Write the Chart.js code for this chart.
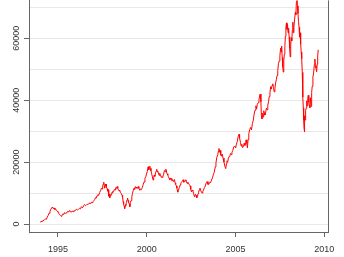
<!DOCTYPE html>
<html><head><meta charset="utf-8">
<script src="https://cdn.jsdelivr.net/npm/chart.js@4"></script>
<style>html,body{margin:0;padding:0;background:#fff}canvas{display:block}</style>
</head><body>
<canvas id="c" width="344" height="257"></canvas>
<script>
const dates = [
1994.00,1994.05,1994.10,1994.15,1994.20,1994.25,1994.30,1994.35,1994.40,1994.45,
1994.50,1994.55,1994.60,1994.65,1994.69,1994.73,1994.78,1994.82,1994.87,1994.91,
1994.96,1995.00,1995.05,1995.10,1995.15,1995.20,1995.24,1995.28,1995.33,1995.38,
1995.43,1995.48,1995.52,1995.56,1995.61,1995.66,1995.70,1995.75,1995.80,1995.85,
1995.90,1995.95,1996.00,1996.05,1996.10,1996.15,1996.22,1996.27,1996.32,1996.36,
1996.40,1996.45,1996.50,1996.55,1996.60,1996.65,1996.70,1996.75,1996.80,1996.85,
1996.88,1996.93,1996.97,1997.02,1997.07,1997.11,1997.15,1997.20,1997.25,1997.30,
1997.35,1997.40,1997.45,1997.49,1997.52,1997.55,1997.58,1997.61,1997.63,1997.66,
1997.68,1997.71,1997.73,1997.77,1997.80,1997.83,1997.86,1997.89,1997.92,1997.95,
1997.98,1998.02,1998.05,1998.08,1998.10,1998.14,1998.18,1998.22,1998.25,1998.29,
1998.33,1998.37,1998.40,1998.44,1998.48,1998.52,1998.57,1998.61,1998.64,1998.67,
1998.70,1998.73,1998.76,1998.78,1998.80,1998.83,1998.86,1998.89,1998.92,1998.95,
1998.98,1999.02,1999.05,1999.08,1999.12,1999.16,1999.20,1999.24,1999.29,1999.32,
1999.36,1999.40,1999.43,1999.47,1999.52,1999.56,1999.61,1999.65,1999.70,1999.75,
1999.80,1999.85,1999.90,1999.95,1999.99,2000.03,2000.08,2000.11,2000.14,2000.17,
2000.20,2000.24,2000.28,2000.32,2000.36,2000.39,2000.42,2000.46,2000.50,2000.53,
2000.56,2000.60,2000.63,2000.67,2000.70,2000.73,2000.77,2000.82,2000.86,2000.90,
2000.95,2001.00,2001.04,2001.08,2001.12,2001.15,2001.19,2001.22,2001.26,2001.30,
2001.34,2001.37,2001.41,2001.45,2001.50,2001.56,2001.60,2001.63,2001.67,2001.70,
2001.73,2001.75,2001.78,2001.80,2001.84,2001.88,2001.92,2001.95,2002.00,2002.05,
2002.09,2002.12,2002.16,2002.20,2002.24,2002.28,2002.32,2002.35,2002.40,2002.45,
2002.48,2002.52,2002.56,2002.60,2002.64,2002.68,2002.70,2002.74,2002.78,2002.82,
2002.86,2002.89,2002.92,2002.96,2003.00,2003.04,2003.08,2003.12,2003.16,2003.20,
2003.25,2003.30,2003.35,2003.40,2003.45,2003.50,2003.55,2003.60,2003.65,2003.70,
2003.75,2003.80,2003.86,2003.90,2003.95,2004.00,2004.04,2004.07,2004.10,2004.13,
2004.17,2004.21,2004.25,2004.30,2004.35,2004.40,2004.45,2004.49,2004.52,2004.56,
2004.60,2004.64,2004.68,2004.72,2004.76,2004.80,2004.85,2004.90,2004.95,2005.01,
2005.05,2005.10,2005.15,2005.20,2005.23,2005.28,2005.32,2005.35,2005.40,2005.45,
2005.49,2005.53,2005.57,2005.60,2005.64,2005.67,2005.71,2005.75,2005.80,2005.85,
2005.90,2005.95,2006.00,2006.05,2006.10,2006.15,2006.19,2006.23,2006.28,2006.32,
2006.37,2006.40,2006.43,2006.46,2006.49,2006.52,2006.55,2006.59,2006.62,2006.66,
2006.70,2006.74,2006.78,2006.82,2006.86,2006.90,2006.94,2006.98,2007.02,2007.06,
2007.10,2007.14,2007.18,2007.22,2007.26,2007.30,2007.34,2007.38,2007.42,2007.46,
2007.50,2007.54,2007.57,2007.60,2007.63,2007.66,2007.69,2007.72,2007.75,2007.78,
2007.81,2007.84,2007.87,2007.90,2007.93,2007.96,2007.99,2008.02,2008.05,2008.08,
2008.11,2008.14,2008.17,2008.20,2008.23,2008.26,2008.29,2008.33,2008.37,2008.40,
2008.43,2008.46,2008.49,2008.52,2008.55,2008.58,2008.61,2008.64,2008.67,2008.70,
2008.73,2008.76,2008.78,2008.80,2008.82,2008.84,2008.86,2008.88,2008.90,2008.92,
2008.95,2008.98,2009.01,2009.04,2009.07,2009.10,2009.13,2009.16,2009.19,2009.22,
2009.26,2009.29,2009.32,2009.36,2009.40,2009.44,2009.47,2009.50,2009.53,2009.57,
2009.60,2009.63,2009.66];
const values = [
600,800,1000,900,1300,1400,1600,1500,2300,2800,
3500,4000,4800,5200,5500,5000,5200,4700,4900,4400,
4100,3900,3400,3000,2700,2400,3000,3300,3100,3700,
3400,3500,3900,4100,3900,4400,4000,3800,4200,4000,
4300,4200,4600,4800,4500,4700,5100,4900,5600,5300,
5400,6000,6300,5900,6100,6400,6300,6700,6800,6600,
7000,6900,7200,7500,7900,8500,8300,9100,9500,9300,
10200,10800,11600,11300,12400,12900,13500,12200,11600,12800,
12400,12900,11800,11400,10600,11100,9000,9600,8500,9200,
9600,9400,10300,10000,10600,10500,11200,11000,11700,11500,
12100,11500,11200,10700,10900,10200,9800,9300,8600,7300,
6400,5800,5000,5900,6300,5800,7000,7800,8400,7600,
7000,6400,5600,6900,7600,8800,9900,10800,11600,11200,
12100,11600,11900,11500,12100,11500,10900,11300,11100,11800,
12700,13600,14700,15300,16200,17000,18500,17500,17800,18700,
18000,17200,16200,15200,14200,15000,15800,15400,16600,17100,
17700,16800,17000,16200,15700,16400,16000,15100,15300,15000,
16100,17300,16900,17700,16800,16200,15800,15300,14800,14300,
14900,14700,14100,14300,13700,14400,13300,12800,12300,11600,
10800,10300,11000,11300,11800,12600,13000,13500,13800,14300,
13500,13700,13900,14300,13600,13100,13500,13200,12700,12300,
11200,10400,11000,10700,9800,9000,8800,9600,9300,8500,
8900,9800,10300,11000,11600,10800,10300,10000,10600,11000,
11800,12300,13300,13700,12800,12900,13500,13400,14200,14900,
15900,16700,18500,19800,21600,22400,23600,24400,23200,23800,
22300,21900,22600,21300,20000,18700,17900,19500,20400,20000,
21300,21800,22100,22800,22400,23200,23800,24900,25200,24600,
25800,26600,28200,29000,27800,26400,25200,25800,24700,25000,
26100,25400,26400,27200,26000,24600,27300,29200,30500,31200,
30400,32400,33500,35500,36800,38200,37200,38700,39200,40100,
41800,42000,39500,35000,34000,35800,34600,36600,36000,35200,
36100,37400,36900,38400,39500,41200,42400,44400,43600,44800,
45300,44100,42700,43800,45600,46600,48000,49600,51800,52700,
54300,56800,55600,57500,53800,50800,49100,52700,54800,57400,
60600,63600,65000,62900,64500,61800,63300,60500,56800,54000,
57800,60200,59200,62600,65200,61800,63600,66200,68400,67600,
71800,73500,70500,68000,65400,63600,60400,61800,58200,55600,
53400,49000,47800,41000,37500,33500,31000,29800,35000,33600,
36800,37400,39800,38200,40600,41600,39400,38300,37600,40800,
38000,42500,44500,47500,48800,51600,53300,51200,50400,49200,
51600,54300,56300];
const xTicks = [1995, 2000, 2005, 2010];
const yGrid = [0,5000,10000,15000,20000,25000,30000,35000,40000,45000,50000,55000,60000,65000,70000];
const yLabelled = [0, 20000, 40000, 60000];

const points = dates.map((d, i) => ({x: d, y: values[i]}));
const axisColor = '#666';
const font = {family: '"Liberation Sans", Arial, sans-serif', size: 9};

const rightBorder = {
  id: 'rightBorder',
  afterDraw(chart) {
    const {ctx, chartArea} = chart;
    ctx.save();
    ctx.strokeStyle = axisColor;
    ctx.lineWidth = 1;
    const x = Math.round(chartArea.right) + 0.5;
    ctx.beginPath();
    ctx.moveTo(x, chartArea.top);
    ctx.lineTo(x, chartArea.bottom + 0.5);
    ctx.stroke();
    ctx.restore();
  }
};

new Chart(document.getElementById('c'), {
  type: 'line',
  data: {datasets: [{data: points, borderColor: '#ff0000', borderWidth: 1, pointRadius: 0, tension: 0, fill: false}]},
  options: {
    responsive: false, animation: false,
    layout: {padding: {top: 0, right: 16, left: 0, bottom: 0}},
    plugins: {legend: {display: false}, tooltip: {enabled: false}},
    scales: {
      x: {
        type: 'linear', min: 1993.37, max: 2010.21,
        afterBuildTicks: s => { s.ticks = xTicks.map(v => ({value: v})); },
        afterFit: s => { s.height = 25; },
        ticks: {font, color: '#333', padding: 7, callback: v => String(v), maxRotation: 0},
        grid: {drawOnChartArea: false, tickLength: 5, tickColor: axisColor},
        border: {display: true, color: axisColor}
      },
      y: {
        type: 'linear', min: -2580, max: 72260,
        afterBuildTicks: s => { s.ticks = yGrid.map(v => ({value: v})); },
        afterFit: s => { s.width = 29; },
        ticks: {font, color: '#333', padding: -5, minRotation: 90, maxRotation: 90, crossAlign: 'center',
          callback: v => yLabelled.includes(v) ? String(v) : ''},
        grid: {color: '#e8e8e8', tickLength: 5,
          tickColor: c => (c.tick && yLabelled.includes(c.tick.value)) ? axisColor : 'rgba(0,0,0,0)'},
        border: {display: true, color: axisColor}
      }
    }
  },
  plugins: [rightBorder]
});
</script>
</body></html>
